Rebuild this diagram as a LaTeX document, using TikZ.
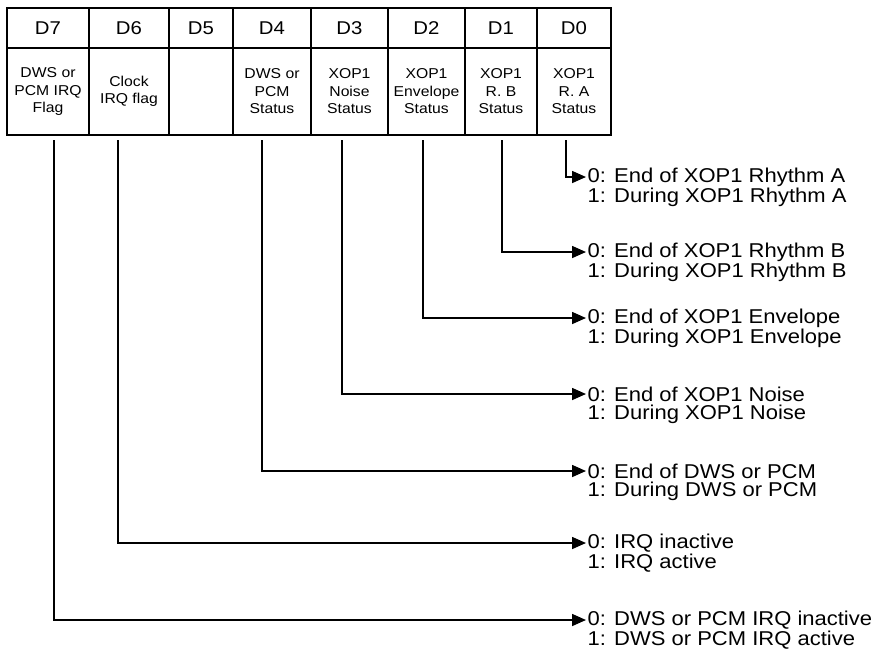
\documentclass[tikz,border=0pt]{standalone}
\usepackage{fontspec}
\setmainfont{Liberation Sans}[FakeStretch=1.1]
\usetikzlibrary{arrows.meta,positioning}

\begin{document}
\begin{tikzpicture}[x=1pt,y=-1pt,
  hcell/.style={draw,line width=2pt,minimum height=40pt,inner sep=0pt,
    font=\fontsize{18.5}{20}\selectfont},
  bcell/.style={draw,line width=2pt,minimum height=87pt,inner sep=0pt,
    align=center,font=\fontsize{14.3}{17.5}\selectfont},
  conn/.style={line width=1.6pt,-{Triangle[length=14pt,width=12pt]}},
  lbl/.style={anchor=west,inner sep=1.5pt,font=\fontsize{20}{20}\selectfont}]
  \useasboundingbox (0,0) rectangle (878,657);
  % bit numbers
  \node[hcell,minimum width=82pt] (h7) at (48,28) {D7};
  \node[hcell,minimum width=80pt] (h6) at (129,28) {D6};
  \node[hcell,minimum width=64pt] (h5) at (201,28) {D5};
  \node[hcell,minimum width=78pt] (h4) at (272,28) {D4};
  \node[hcell,minimum width=77pt] (h3) at (349.5,28) {D3};
  \node[hcell,minimum width=77pt] (h2) at (426.5,28) {D2};
  \node[hcell,minimum width=72pt] (h1) at (501,28) {D1};
  \node[hcell,minimum width=74pt] (h0) at (574,28) {D0};
  % bit meanings
  \node[bcell,minimum width=82pt] (b7) at (48,91.5) {DWS or\\PCM IRQ\\Flag};
  \node[bcell,minimum width=80pt] (b6) at (129,91.5) {Clock\\IRQ flag};
  \node[bcell,minimum width=64pt] (b5) at (201,91.5) {};
  \node[bcell,minimum width=78pt] (b4) at (272,91.5) {DWS or\\PCM\\Status};
  \node[bcell,minimum width=77pt] (b3) at (349.5,91.5) {XOP1\\Noise\\Status};
  \node[bcell,minimum width=77pt] (b2) at (426.5,91.5) {XOP1\\Envelope\\Status};
  \node[bcell,minimum width=72pt] (b1) at (501,91.5) {XOP1\\R. B\\Status};
  \node[bcell,minimum width=74pt] (b0) at (574,91.5) {XOP1\\R. A\\Status};

  % where the leaders start
  \coordinate (t7) at (54,140);
  \coordinate (t6) at (118,140);
  \coordinate (t4) at (262,140);
  \coordinate (t3) at (342,140);
  \coordinate (t2) at (423,140);
  \coordinate (t1) at (502,140);
  \coordinate (t0) at (566,140);

  % values
  \node[lbl] (z0) at (586,177) {0: End of XOP1 Rhythm A};
  \node[lbl] (o0) at (586,197.5) {1: During XOP1 Rhythm A};
  \node[lbl] (z1) at (586,252) {0: End of XOP1 Rhythm B};
  \node[lbl] (o1) at (586,272.5) {1: During XOP1 Rhythm B};
  \node[lbl] (z2) at (586,318) {0: End of XOP1 Envelope};
  \node[lbl] (o2) at (586,338.5) {1: During XOP1 Envelope};
  \node[lbl] (z3) at (586,394) {0: End of XOP1 Noise};
  \node[lbl] (o3) at (586,414.5) {1: During XOP1 Noise};
  \node[lbl] (z4) at (586,471) {0: End of DWS or PCM};
  \node[lbl] (o4) at (586,491.5) {1: During DWS or PCM};
  \node[lbl] (z6) at (586,543) {0: IRQ inactive};
  \node[lbl] (o6) at (586,563.5) {1: IRQ active};
  \node[lbl] (z7) at (586,620) {0: DWS or PCM IRQ inactive};
  \node[lbl] (o7) at (586,640.5) {1: DWS or PCM IRQ active};

  \draw[conn] (t0) |- (z0.west);
  \draw[conn] (t1) |- (z1.west);
  \draw[conn] (t2) |- (z2.west);
  \draw[conn] (t3) |- (z3.west);
  \draw[conn] (t4) |- (z4.west);
  \draw[conn] (t6) |- (z6.west);
  \draw[conn] (t7) |- (z7.west);
\end{tikzpicture}
\end{document}
